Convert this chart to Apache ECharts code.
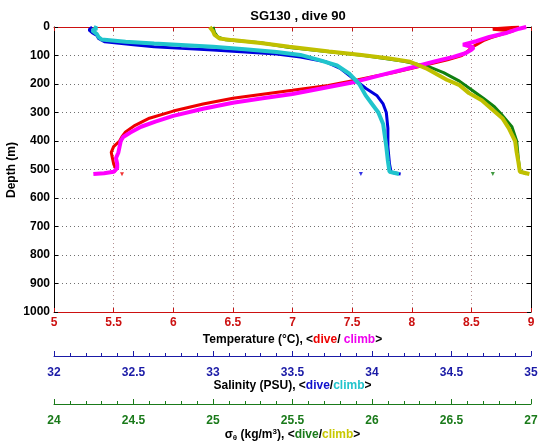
<!DOCTYPE html>
<html><head><meta charset="utf-8">
<script src="https://cdn.jsdelivr.net/npm/echarts@6/dist/echarts.min.js"></script>
<style>html,body{margin:0;padding:0;background:#fff}#c{width:543px;height:442px}</style>
</head><body><div id="c"></div>
<script>
// ---- data: [value, depth(m)] ----
const tempDive = [[8.9,0],[8.72,5],[8.68,8],[8.85,14],[8.78,22],[8.72,30],[8.66,38],[8.6,48],[8.55,60],[8.5,72],[8.47,85],[8.42,100],[8.3,115],[8.15,130],[8.0,145],[7.85,160],[7.7,172],[7.55,185],[7.3,205],[7.0,222],[6.75,236],[6.5,250],[6.25,270],[6.0,295],[5.8,320],[5.68,345],[5.6,368],[5.57,385],[5.55,400],[5.5,420],[5.48,440],[5.49,460],[5.5,480],[5.52,500],[5.5,510]];
const tempClimb = [[8.96,0],[8.9,6],[8.8,20],[8.65,35],[8.54,50],[8.43,62],[8.52,72],[8.5,80],[8.45,92],[8.35,105],[8.2,120],[8.0,142],[7.75,168],[7.5,195],[7.25,215],[7.0,235],[6.75,250],[6.5,266],[6.25,287],[6.0,312],[5.85,332],[5.73,350],[5.64,370],[5.58,386],[5.56,400],[5.55,420],[5.54,440],[5.52,460],[5.53,480],[5.53,495],[5.5,508],[5.42,513],[5.33,516]];
const salDive = [[32.24,0],[32.22,10],[32.24,20],[32.27,30],[32.28,40],[32.32,52],[32.5,62],[32.63,69],[32.8,75],[33.0,81],[33.2,88],[33.4,95],[33.55,105],[33.71,122],[33.8,145],[33.88,180],[33.96,215],[34.03,240],[34.07,270],[34.09,300],[34.1,355],[34.1,420],[34.11,480],[34.12,510],[34.18,516]];
const salClimb = [[32.25,0],[32.27,5],[32.24,12],[32.27,25],[32.28,35],[32.3,44],[32.45,52],[32.63,58],[32.8,63],[33.0,69],[33.2,78],[33.4,88],[33.55,98],[33.67,116],[33.78,135],[33.86,165],[33.92,200],[33.96,240],[34.0,270],[34.04,300],[34.07,340],[34.08,380],[34.09,420],[34.1,470],[34.11,508],[34.17,516]];
const sigDive = [[25.0,0],[25.01,20],[25.03,35],[25.08,45],[25.3,55],[25.48,72],[25.7,85],[25.95,100],[26.2,120],[26.36,140],[26.45,160],[26.55,190],[26.63,222],[26.7,250],[26.77,280],[26.82,310],[26.88,350],[26.91,400],[26.92,460],[26.93,505],[26.97,515]];
const sigClimb = [[24.98,0],[25.0,15],[25.01,28],[25.04,40],[25.12,46],[25.3,56],[25.48,69],[25.73,86],[25.92,97],[26.1,110],[26.24,122],[26.34,145],[26.47,185],[26.55,204],[26.61,232],[26.69,257],[26.76,291],[26.82,320],[26.86,355],[26.9,400],[26.91,440],[26.92,472],[26.93,508],[26.99,516]];
const tempDiveDots = [[5.57,517]];
const salDiveDots = [[33.93,516]];
const sigDiveDots = [[26.76,516]];
// axis ranges / ticks
const depthRange = [0, 1000], depthStep = 100;
const tempRange = [5, 9], tempStep = 0.5;
const salRange = [32, 35], salStep = 0.5;
const sigRange = [24, 27], sigStep = 0.5;

const FONT = '"Liberation Sans", Arial, Helvetica, sans-serif';
const RED = '#cc1111', BLUE = '#1a1aa6', GREEN = '#1a7a1a';
const chart = echarts.init(document.getElementById('c'));
const plain = v => String(v);

function visAxis(grid, rng, step, color, name, rich, gap, margin) {
  return {
    gridIndex: grid, type: 'value', position: 'bottom', min: rng[0], max: rng[1], interval: step,
    axisLine: {show: true, onZero: false, lineStyle: {color: color, width: 1}},
    axisTick: {show: true, inside: true, length: 5, lineStyle: {color: color}},
    minorTick: {show: true, splitNumber: 5, length: 3, lineStyle: {color: color}},
    axisLabel: {color: color, fontWeight: 'bold', fontSize: 12, fontFamily: FONT, margin: margin, formatter: plain},
    splitLine: {show: false},
    name: name, nameLocation: 'middle', nameGap: gap,
    nameTextStyle: {color: '#000', fontWeight: 'bold', fontSize: 12, fontFamily: FONT, rich: rich}
  };
}

const option = {
  animation: false,
  backgroundColor: '#fff',
  title: {text: 'SG130 , dive 90', left: 293, textAlign: 'center', top: 5,
    textStyle: {fontFamily: FONT, fontWeight: 'bold', fontSize: 13, color: '#000'}},
  graphic: [{type: 'text', x: 12, y: 170, rotation: Math.PI / 2, z: 10,
    style: {text: 'Depth (m)', fill: '#000', font: 'bold 12px ' + FONT, align: 'center', verticalAlign: 'middle'}}],
  grid: [
    {left: 54, top: 27, width: 477, height: 285, outerBoundsMode: 'none', containLabel: false},
    {left: 54, top: 356, width: 477, height: 0, outerBoundsMode: 'none', containLabel: false},
    {left: 54, top: 404, width: 477, height: 0, outerBoundsMode: 'none', containLabel: false}
  ],
  xAxis: [
    {gridIndex: 0, type: 'value', position: 'bottom', min: tempRange[0], max: tempRange[1], interval: tempStep,
      axisLine: {show: true, onZero: false, lineStyle: {color: RED}},
      axisTick: {show: true, inside: true, length: 4, lineStyle: {color: RED}},
      axisLabel: {color: RED, fontWeight: 'bold', fontSize: 12, fontFamily: FONT, margin: 5, formatter: plain},
      splitLine: {show: true, lineStyle: {type: [1, 3], color: '#b49090'}},
      name: 'Temperature (°C), <{d|dive}/ {c|climb}>', nameLocation: 'middle', nameGap: 20,
      nameTextStyle: {color: '#000', fontWeight: 'bold', fontSize: 12, fontFamily: FONT,
        rich: {d: {color: '#ee0000', fontWeight: 'bold', fontSize: 12, fontFamily: FONT},
               c: {color: '#ee00ee', fontWeight: 'bold', fontSize: 12, fontFamily: FONT}}}},
    {gridIndex: 0, type: 'value', position: 'top', min: tempRange[0], max: tempRange[1], interval: tempStep,
      axisLine: {show: true, onZero: false, lineStyle: {color: RED}},
      axisTick: {show: true, inside: true, length: 4, lineStyle: {color: RED}},
      axisLabel: {show: false}, splitLine: {show: false}},
    {gridIndex: 0, type: 'value', min: salRange[0], max: salRange[1], show: false},
    {gridIndex: 0, type: 'value', min: sigRange[0], max: sigRange[1], show: false},
    visAxis(1, salRange, salStep, BLUE, 'Salinity (PSU), <{d|dive}/{c|climb}>',
      {d: {color: '#1010cc', fontWeight: 'bold', fontSize: 12, fontFamily: FONT},
       c: {color: '#22c4cc', fontWeight: 'bold', fontSize: 12, fontFamily: FONT}}, 24, 11),
    visAxis(2, sigRange, sigStep, GREEN, '{n|σ}{sub|θ}{n| (kg/m}{sup|3}{n|), <}{d|dive}{n|/}{c|climb}{n|>}',
      {n: {color: '#000', fontWeight: 'bold', fontSize: 12, fontFamily: FONT, lineHeight: 14},
       sub: {color: '#000', fontWeight: 'bold', fontSize: 8, fontFamily: FONT, lineHeight: 14, verticalAlign: 'bottom'},
       sup: {color: '#000', fontWeight: 'bold', fontSize: 8, fontFamily: FONT, lineHeight: 14, verticalAlign: 'top'},
       d: {color: '#1a7a1a', fontWeight: 'bold', fontSize: 12, fontFamily: FONT, lineHeight: 14},
       c: {color: '#c8c800', fontWeight: 'bold', fontSize: 12, fontFamily: FONT, lineHeight: 14}}, 21, 11)
  ],
  yAxis: [
    {gridIndex: 0, type: 'value', inverse: true, min: depthRange[0], max: depthRange[1], interval: depthStep, position: 'left',
      axisLine: {show: true, onZero: false, lineStyle: {color: '#000'}},
      axisTick: {show: true, inside: true, length: 4, lineStyle: {color: '#000'}},
      axisLabel: {color: '#000', fontWeight: 'bold', fontSize: 12, fontFamily: FONT, margin: 4, formatter: plain},
      splitLine: {show: true, lineStyle: {type: [1, 3], color: '#707070'}}},
    {gridIndex: 0, type: 'value', inverse: true, min: depthRange[0], max: depthRange[1], interval: depthStep, position: 'right',
      axisLine: {show: true, onZero: false, lineStyle: {color: '#000'}},
      axisTick: {show: true, inside: true, length: 4, lineStyle: {color: '#000'}},
      axisLabel: {show: false}, splitLine: {show: false}},
    {gridIndex: 1, type: 'value', show: false},
    {gridIndex: 2, type: 'value', show: false}
  ],
  series: [
    {type: 'line', xAxisIndex: 0, yAxisIndex: 0, data: tempDive, showSymbol: false, lineStyle: {color: '#ee0000', width: 3}, z: 2},
    {type: 'line', xAxisIndex: 0, yAxisIndex: 0, data: tempClimb, showSymbol: false, lineStyle: {color: '#ff00ff', width: 4}, z: 3},
    {type: 'line', xAxisIndex: 2, yAxisIndex: 0, data: salDive, showSymbol: false, lineStyle: {color: '#0000dd', width: 3}, z: 2},
    {type: 'line', xAxisIndex: 2, yAxisIndex: 0, data: salClimb, showSymbol: false, lineStyle: {color: '#20c4cc', width: 4}, z: 3},
    {type: 'line', xAxisIndex: 3, yAxisIndex: 0, data: sigDive, showSymbol: false, lineStyle: {color: '#108010', width: 3}, z: 2},
    {type: 'line', xAxisIndex: 3, yAxisIndex: 0, data: sigClimb, showSymbol: false, lineStyle: {color: '#c0c000', width: 4}, z: 3},
    {type: 'scatter', xAxisIndex: 0, yAxisIndex: 0, data: tempDiveDots, symbol: 'triangle', symbolRotate: 180, symbolSize: 4, itemStyle: {color: '#ee0000'}},
    {type: 'scatter', xAxisIndex: 2, yAxisIndex: 0, data: salDiveDots, symbol: 'triangle', symbolRotate: 180, symbolSize: 4, itemStyle: {color: '#0000dd'}},
    {type: 'scatter', xAxisIndex: 3, yAxisIndex: 0, data: sigDiveDots, symbol: 'triangle', symbolRotate: 180, symbolSize: 4, itemStyle: {color: '#108010'}}
  ]
};
chart.setOption(option);
</script></body></html>
